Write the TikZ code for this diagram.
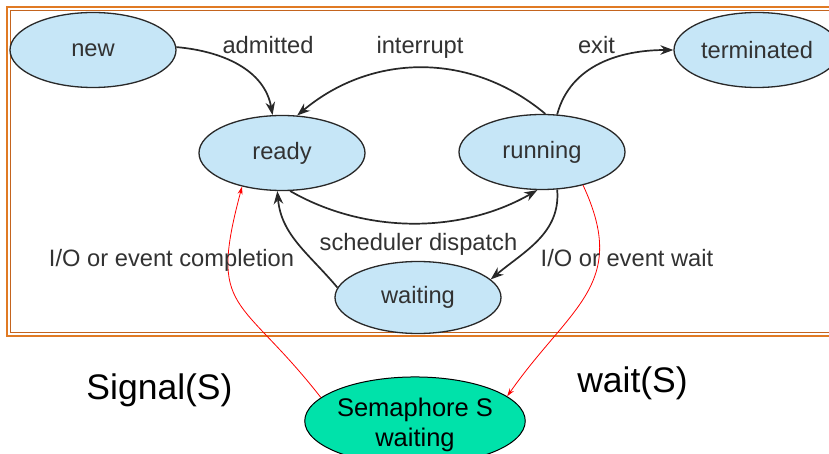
\documentclass[tikz,border=0pt]{standalone}
\usepackage{fontspec}
\setmainfont{Liberation Sans}
\usetikzlibrary{shapes.geometric,arrows.meta}
\definecolor{statefill}{RGB}{198,230,247}
\definecolor{stateline}{RGB}{40,40,40}
\definecolor{labelgray}{RGB}{50,50,50}
\definecolor{frameorange}{RGB}{224,122,36}
\definecolor{framebrown}{RGB}{196,100,30}
\definecolor{semgreen}{RGB}{0,226,170}

\begin{document}
\begin{tikzpicture}[x=1pt,y=1pt,
  state/.style={ellipse, draw=stateline, fill=statefill, line width=1.3pt,
    minimum width=166pt, minimum height=75pt, inner sep=0pt, text=labelgray,
    font=\fontsize{23.7}{28}\selectfont},
  semstate/.style={ellipse, draw=black, fill=semgreen, line width=1pt,
    minimum width=207pt, minimum height=84pt, inner sep=0pt, align=center,
    font=\fontsize{25.5}{30}\selectfont},
  edgelabel/.style={anchor=base, text=labelgray, inner sep=0pt,
    font=\fontsize{23.7}{28}\selectfont},
  biglabel/.style={anchor=base, inner sep=0pt, font=\fontsize{35.5}{40}\selectfont},
  trans/.style={draw=stateline, line width=1.7pt, -{Stealth[length=13pt,width=9.5pt]}},
  semlink/.style={draw=red, line width=0.8pt, -{Stealth[length=8pt,width=5pt]}},
]
\useasboundingbox (0,0) rectangle (829,453);
\fill[white] (0,0) rectangle (829,453);

% double orange frame around the state diagram
\draw[frameorange, line width=2.2pt] (7,446) rectangle (850,117);
\draw[framebrown, line width=1pt] (10.5,442.5) rectangle (850,120.5);

% process states
\node[state] (new) at (93,403) {new};
\node[state] (ready) at (282,300) {ready};
\node[state] (running) at (542,301) {running};
\node[state] (terminated) at (757,403) {terminated};
\node[state, minimum height=72pt] (waiting) at (418,155.5) {waiting};

% semaphore
\node[semstate] (sem) at (415,32) {\rule{0pt}{27pt}Semaphore S\\waiting};

% transitions
\draw[trans] (new.2) to[out=-5,in=100] (ready.104);
\draw[trans] (running.85) to[out=140,in=40] (ready.68);
\draw[trans] (running.68) to[out=75,in=180] (terminated.180);
\draw[trans] (ready.-78) to[out=-30,in=-150,looseness=0.9] (running.-97);
\draw[trans] (running.-68) to[out=-85,in=40] (waiting.14);
\draw[trans] (waiting.173) to[out=130,in=-85] (ready.-97);

% semaphore links
\draw[semlink] (sem.166) to[out=128,in=-105,looseness=1.5] (ready.220);
\draw[semlink] (running.-39) to[out=-65,in=55,looseness=1.25] (sem.15);

% transition labels
\node[edgelabel] (admittedlbl) at (268,399) {admitted};
\node[edgelabel] (interruptlbl) at (420,399) {interrupt};
\node[edgelabel] (exitlbl) at (596.5,399) {exit};
\node[edgelabel] (dispatchlbl) at (418.5,203) {scheduler dispatch};
\node[edgelabel] (completionlbl) at (171.5,187) {I/O or event completion};
\node[edgelabel] (waitlbl) at (627,187) {I/O or event wait};

% semaphore operations
\node[biglabel] (signallbl) at (159.5,54) {Signal(S)};
\node[biglabel] (waitslbl) at (632.5,61) {wait(S)};
\end{tikzpicture}
\end{document}
